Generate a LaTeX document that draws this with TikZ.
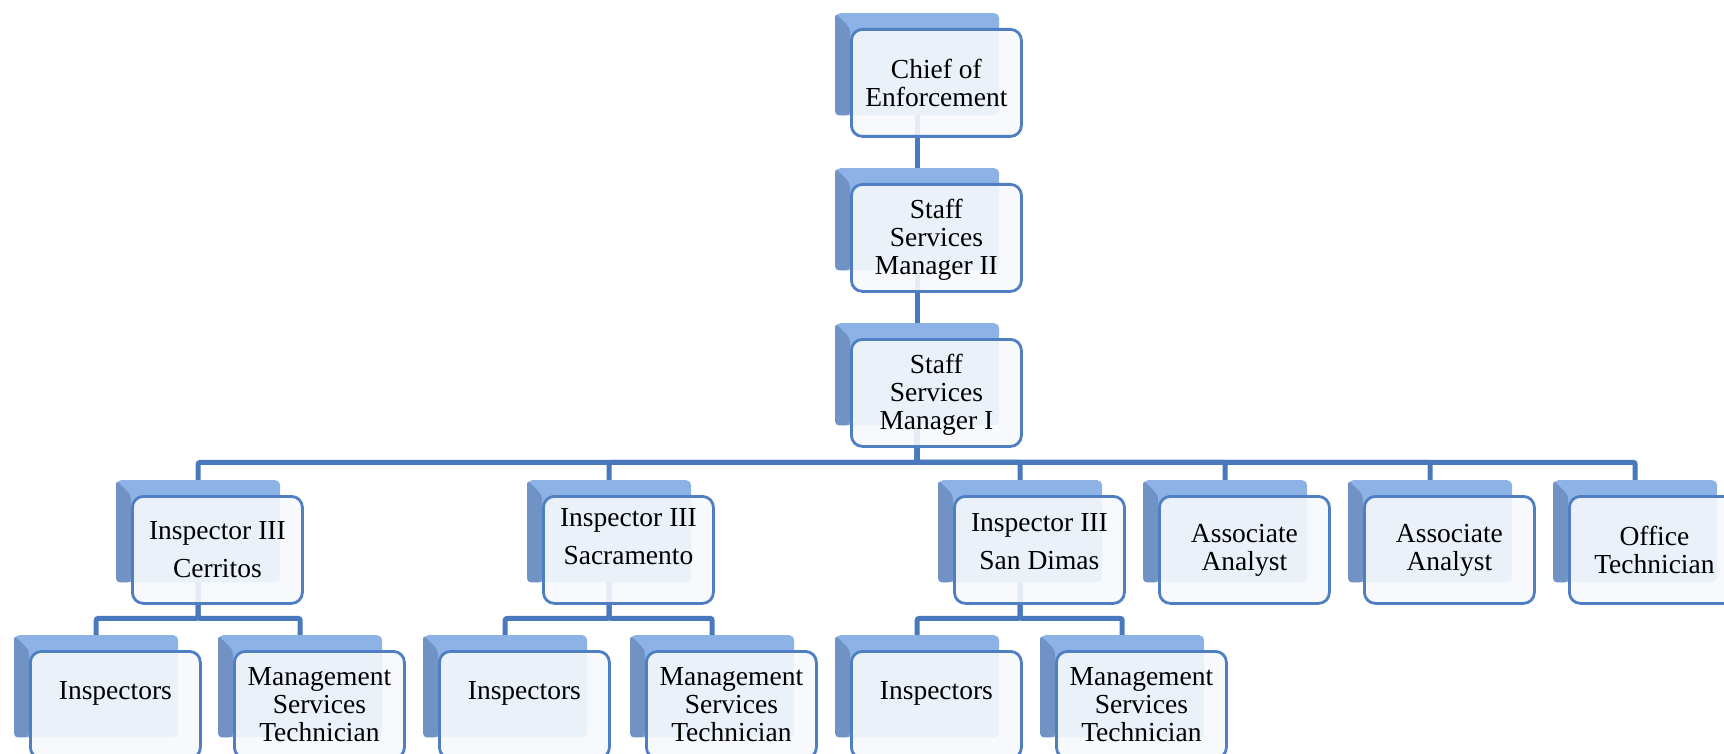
\documentclass[tikz,border=0pt]{standalone}
\usepackage{fontspec}
\setmainfont{Liberation Serif}
\usetikzlibrary{calc,backgrounds}
\definecolor{linkblue}{HTML}{4A78BC}
\definecolor{frameblue}{HTML}{4F7EC2}
\definecolor{cardtop}{HTML}{8DB3E6}
\definecolor{cardside}{HTML}{7092C4}
\definecolor{boxfill}{HTML}{F6F8FC}
\newcommand\orgcard[5][]{%
  \node[backcard] (#2b) at (#3-15,#4-15) {};
  \fill[cardside,rounded corners=4pt] (#2b.north west) -- ($(#2b.north west)+(15,15)$) -- ($(#2b.south west)+(15,0)$) -- (#2b.south west) -- cycle;
  \node[frontbox,#1] (#2) at (#3,#4) {#5};
}
\begin{document}
\begin{tikzpicture}[x=1pt,y=-1pt,
  backcard/.style={minimum width=164pt,minimum height=102pt,inner sep=0pt,fill=cardtop,rounded corners=5pt,anchor=north west},
  frontbox/.style={minimum width=170pt,minimum height=107pt,inner sep=0pt,draw=frameblue,line width=2.8pt,rounded corners=11pt,fill=boxfill,fill opacity=0.9,text opacity=1,anchor=north west,align=center,font=\fontsize{27.5}{28}\selectfont},
  link/.style={draw=linkblue,line width=5pt,rounded corners=2pt}]
\useasboundingbox (0,0) rectangle (1724,754);
\clip (0,0) rectangle (1724,754);
% level 0-2
\orgcard{chief}{850}{28}{Chief of\\Enforcement}
\orgcard[text height=80pt]{ssmii}{850}{183}{Staff\\Services\\Manager II}
\orgcard[text height=80pt]{ssmi}{850}{338}{Staff\\Services\\Manager I}
% level 3
\orgcard{cer}{131}{495}{Inspector III\\[10pt]Cerritos}
\orgcard[text depth=26pt]{sac}{542}{495}{Inspector III\\[10pt]Sacramento}
\orgcard[text depth=16pt]{sd}{953}{495}{Inspector III\\[10pt]San Dimas}
\orgcard{aa1}{1158}{495}{Associate\\Analyst}
\orgcard{aa2}{1363}{495}{Associate\\Analyst}
\orgcard{ot}{1568}{495}{Office\\Technician}
% level 4
\orgcard[text depth=28pt]{ia}{29}{650}{Inspectors}
\orgcard{ma}{233}{650}{Management\\Services\\Technician}
\orgcard[text depth=28pt]{ib}{438}{650}{Inspectors}
\orgcard{mb}{645}{650}{Management\\Services\\Technician}
\orgcard[text depth=28pt]{ic}{850}{650}{Inspectors}
\orgcard{mc}{1055}{650}{Management\\Services\\Technician}
% connectors
\begin{scope}[on background layer]
\draw[link] (chiefb.south) -- (ssmiib.north);
\draw[link] (ssmiib.south) -- (ssmib.north);
\foreach \c in {cer,sac,sd,aa1,aa2,ot}
  \draw[link] (ssmib.south) -- ++(0,37) -| (\c b.north);
\foreach \p/\a/\b in {cer/ia/ma,sac/ib/mb,sd/ic/mc}{
  \draw[link] (\p b.south) -- ++(0,36) -| (\a b.north);
  \draw[link] (\p b.south) -- ++(0,36) -| (\b b.north);
}
\end{scope}
\end{tikzpicture}
\end{document}
